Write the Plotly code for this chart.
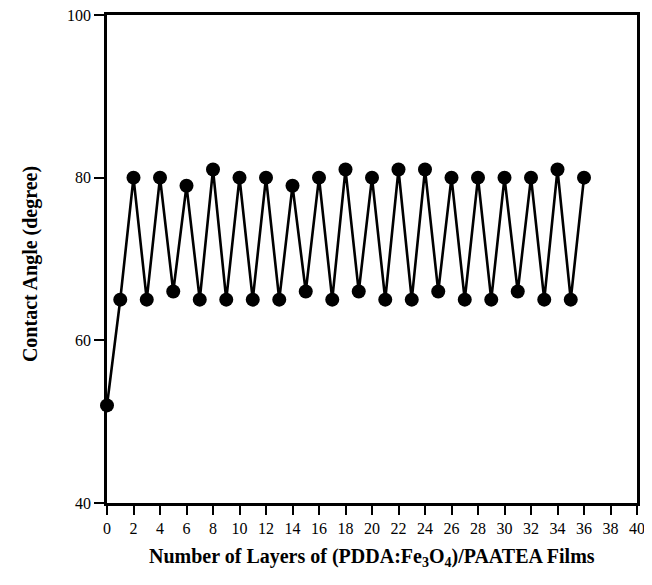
import plotly.graph_objects as go

layers = list(range(0, 37))
contact_angle = [52, 65, 80, 65, 80, 66, 79, 65, 81, 65,
                 80, 65, 80, 65, 79, 66, 80, 65, 81, 66,
                 80, 65, 81, 65, 81, 66, 80, 65, 80, 65,
                 80, 66, 80, 65, 81, 65, 80]
x_ticks = list(range(0, 41, 2))
y_ticks = [40, 60, 80, 100]

font_family = "Liberation Serif"

fig = go.Figure()
fig.add_trace(go.Scatter(
    x=layers, y=contact_angle, mode="lines+markers",
    line=dict(color="black", width=2.6),
    marker=dict(color="black", size=14),
    showlegend=False,
    cliponaxis=False,
))

fig.update_layout(
    width=636, height=569,
    margin=dict(l=99, r=7, t=7, b=74, autoexpand=False),
    plot_bgcolor="white", paper_bgcolor="white",
    font=dict(family=font_family, color="black"),
    xaxis=dict(
        range=[0, 40], tickvals=x_ticks, ticktext=[str(v) for v in x_ticks],
        showgrid=False, zeroline=False, showline=True, linecolor="black",
        linewidth=2.6, mirror=True, ticks="outside", ticklen=9, tickwidth=2.4,
        tickcolor="black", tickfont=dict(size=16, family=font_family),
        automargin=False, ticklabeloverflow="allow",
    ),
    yaxis=dict(
        range=[40, 100], tickvals=y_ticks,
        showgrid=False, zeroline=False, showline=True, linecolor="black",
        linewidth=2.6, mirror=True, ticks="outside", ticklen=10, tickwidth=2.4,
        tickcolor="black", tickfont=dict(size=16, family=font_family),
        automargin=False, ticklabeloverflow="allow",
    ),
    annotations=[
        dict(text="<b>Number of Layers of (PDDA:Fe<sub>3</sub>O<sub>4</sub>)/PAATEA Films</b>",
             xref="paper", yref="paper", x=0.5, y=-0.111, yanchor="middle",
             xanchor="center",
             showarrow=False, font=dict(size=20, family=font_family, color="black")),
        dict(text="<b>Contact Angle (degree)</b>",
             xref="paper", yref="paper", x=-0.143, y=0.49, xanchor="center",
             yanchor="middle",
             textangle=-90, showarrow=False,
             font=dict(size=20, family=font_family, color="black")),
    ],
)

fig.write_html("out.html")
